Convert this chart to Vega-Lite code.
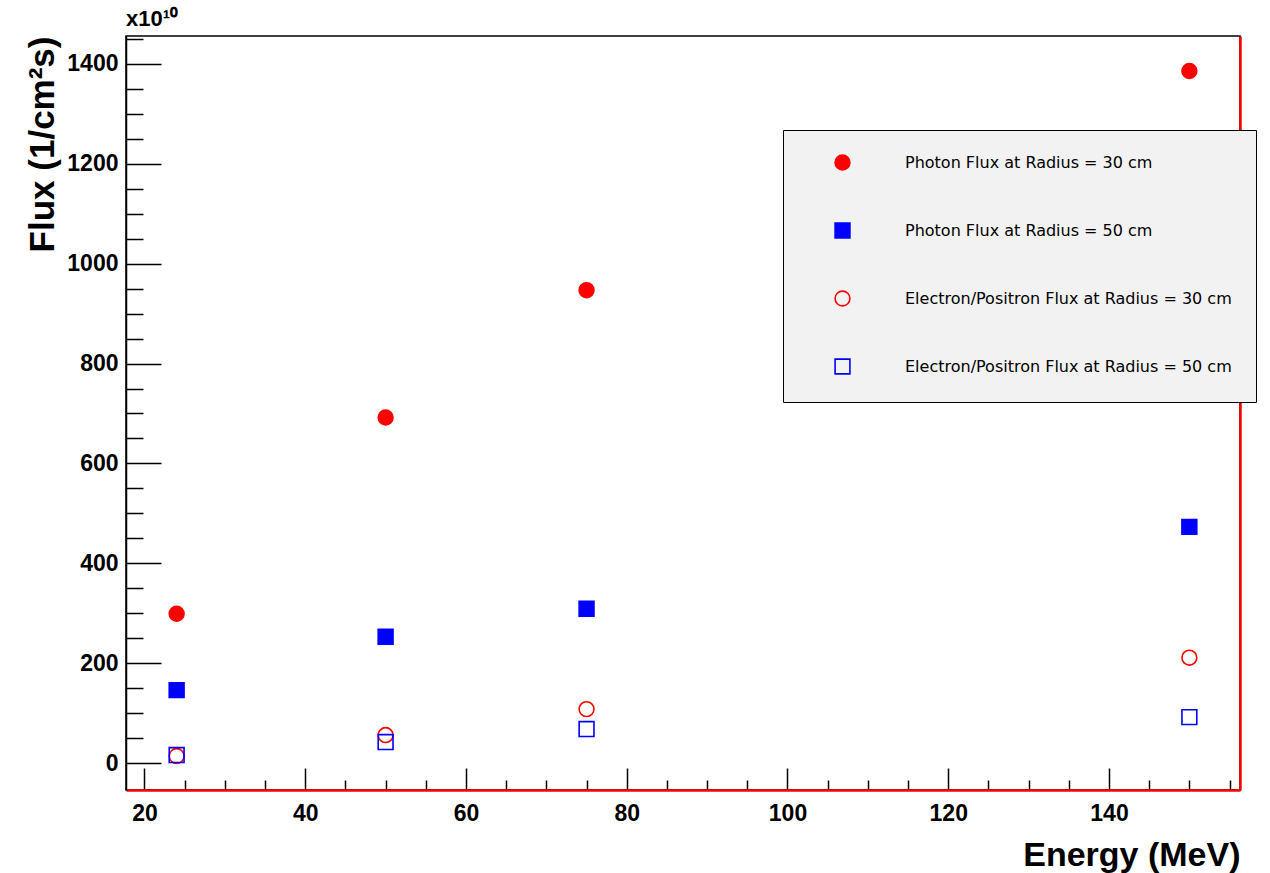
{
  "$schema": "https://vega.github.io/schema/vega-lite/v6.json",
  "width": 1114,
  "height": 754,
  "autosize": {"type": "none"},
  "padding": {"left": 126, "top": 36, "right": 30, "bottom": 83},
  "background": "white",
  "title": {
    "text": "x10¹⁰",
    "anchor": "start",
    "frame": "group",
    "font": "Liberation Sans",
    "fontSize": 22,
    "fontWeight": "bold",
    "color": "black",
    "offset": -3
  },
  "config": {
    "view": {"stroke": "black", "strokeWidth": 1.5},
    "axis": {
      "grid": false,
      "labelFont": "Liberation Sans",
      "labelFontWeight": "bold",
      "labelColor": "black",
      "tickColor": "black",
      "tickWidth": 1.5,
      "titleFont": "Liberation Sans",
      "titleFontWeight": "bold",
      "titleColor": "black"
    }
  },
  "data": {
    "values": [
      {"series": "Photon Flux at Radius = 30 cm", "energy": 24, "flux": 299},
      {"series": "Photon Flux at Radius = 30 cm", "energy": 50, "flux": 692},
      {"series": "Photon Flux at Radius = 30 cm", "energy": 75, "flux": 947},
      {"series": "Photon Flux at Radius = 30 cm", "energy": 150, "flux": 1386},
      {"series": "Photon Flux at Radius = 50 cm", "energy": 24, "flux": 146},
      {"series": "Photon Flux at Radius = 50 cm", "energy": 50, "flux": 253},
      {"series": "Photon Flux at Radius = 50 cm", "energy": 75, "flux": 309},
      {"series": "Photon Flux at Radius = 50 cm", "energy": 150, "flux": 473},
      {"series": "Electron/Positron Flux at Radius = 30 cm", "energy": 24, "flux": 14},
      {"series": "Electron/Positron Flux at Radius = 30 cm", "energy": 50, "flux": 56},
      {"series": "Electron/Positron Flux at Radius = 30 cm", "energy": 75, "flux": 108},
      {"series": "Electron/Positron Flux at Radius = 30 cm", "energy": 150, "flux": 211},
      {"series": "Electron/Positron Flux at Radius = 50 cm", "energy": 24, "flux": 16},
      {"series": "Electron/Positron Flux at Radius = 50 cm", "energy": 50, "flux": 42},
      {"series": "Electron/Positron Flux at Radius = 50 cm", "energy": 75, "flux": 68},
      {"series": "Electron/Positron Flux at Radius = 50 cm", "energy": 150, "flux": 92}
    ]
  },
  "encoding": {
    "x": {
      "field": "energy",
      "type": "quantitative",
      "scale": {"domain": [17.7, 156.3], "nice": false, "zero": false},
      "axis": {
        "orient": "bottom",
        "values": [20, 25, 30, 35, 40, 45, 50, 55, 60, 65, 70, 75, 80, 85, 90, 95, 100, 105, 110, 115, 120, 125, 130, 135, 140, 145, 150, 155],
        "labelExpr": "datum.value % 20 === 0 ? datum.label : ''",
        "format": "d",
        "labelFontSize": 23,
        "tickSize": {"condition": {"test": "datum.value % 20 === 0", "value": -22}, "value": -10},
        "labelPadding": 34,
        "labelFlush": false,
        "labelOverlap": false,
        "domainColor": "#ff0000",
        "domainWidth": 2.5,
        "title": "Energy (MeV)",
        "titleFontSize": 34,
        "titleAlign": "right",
        "titleAnchor": "end",
        "titleBaseline": "alphabetic",
        "titleX": 1114,
        "titleY": 75
      }
    }
  },
  "layer": [
    {
      "mark": {"type": "point", "size": 220, "strokeWidth": 1.6, "opacity": 1},
      "encoding": {
        "y": {
          "field": "flux",
          "type": "quantitative",
          "scale": {"domain": [-54, 1456], "nice": false, "zero": false},
          "axis": {
            "orient": "left",
            "values": [0, 50, 100, 150, 200, 250, 300, 350, 400, 450, 500, 550, 600, 650, 700, 750, 800, 850, 900, 950, 1000, 1050, 1100, 1150, 1200, 1250, 1300, 1350, 1400, 1450],
            "labelExpr": "datum.value % 200 === 0 ? datum.label : ''",
            "format": "d",
            "labelFontSize": 23,
            "tickSize": {"condition": {"test": "datum.value % 200 === 0", "value": -35}, "value": -17},
            "labelPadding": 43,
            "labelFlush": false,
            "labelOverlap": false,
            "domainColor": "black",
            "domainWidth": 1.5,
            "title": "Flux (1/cm²s)",
            "titleFontSize": 35,
            "titleAngle": -90,
            "titleAlign": "right",
            "titleBaseline": "alphabetic",
            "titleX": -73,
            "titleY": 0
          }
        },
        "shape": {
          "field": "series",
          "type": "nominal",
          "scale": {
            "domain": ["Photon Flux at Radius = 30 cm", "Photon Flux at Radius = 50 cm", "Electron/Positron Flux at Radius = 30 cm", "Electron/Positron Flux at Radius = 50 cm"],
            "range": ["circle", "square", "circle", "square"]
          },
          "legend": {
            "orient": "none",
            "legendX": 657,
            "legendY": 94,
            "title": null,
            "fillColor": "#f2f2f2",
            "strokeColor": "black",
            "padding": 24,
            "rowPadding": 45,
            "symbolSize": 220,
            "symbolStrokeWidth": 1.6,
            "symbolOffset": 27,
            "labelOffset": 54,
            "labelFont": "DejaVu Sans",
            "labelFontSize": 16,
            "labelColor": "black",
            "labelLimit": 500
          }
        },
        "fill": {
          "field": "series",
          "type": "nominal",
          "scale": {
            "domain": ["Photon Flux at Radius = 30 cm", "Photon Flux at Radius = 50 cm", "Electron/Positron Flux at Radius = 30 cm", "Electron/Positron Flux at Radius = 50 cm"],
            "range": ["#ff0000", "#0000ff", "transparent", "transparent"]
          }
        },
        "stroke": {
          "field": "series",
          "type": "nominal",
          "scale": {
            "domain": ["Photon Flux at Radius = 30 cm", "Photon Flux at Radius = 50 cm", "Electron/Positron Flux at Radius = 30 cm", "Electron/Positron Flux at Radius = 50 cm"],
            "range": ["#ff0000", "#0000ff", "#ff0000", "#0000ff"]
          }
        }
      }
    },
    {
      "mark": {"type": "point", "opacity": 0},
      "encoding": {
        "y": {
          "field": "flux",
          "type": "quantitative",
          "axis": {
            "orient": "right",
            "domainColor": "#ff0000",
            "domainWidth": 2.5,
            "ticks": false,
            "labels": false,
            "title": null,
            "grid": false
          }
        }
      }
    }
  ],
  "resolve": {"axis": {"y": "independent"}}
}
